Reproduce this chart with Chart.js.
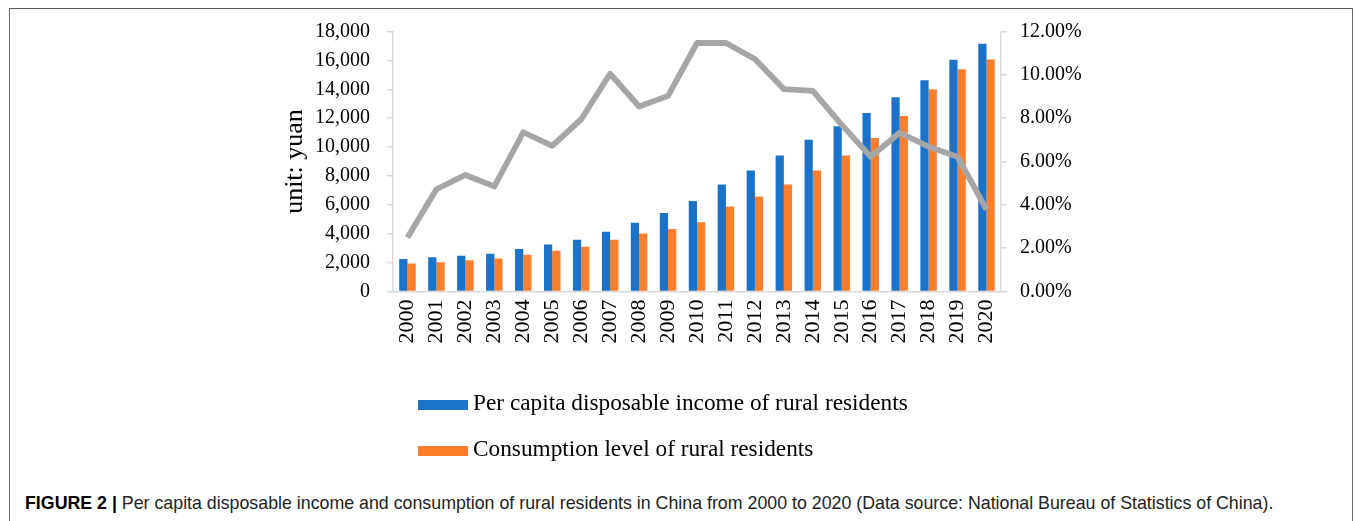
<!DOCTYPE html>
<html lang="en">
<head>
  <meta charset="UTF-8">
  <title>Rural residents: income and consumption, 2000-2020</title>
  <script src="https://cdn.jsdelivr.net/npm/chart.js@4"></script>
  <style>
    html, body {
      margin: 0;
      padding: 0;
      width: 1355px;
      height: 521px;
      overflow: hidden;
      background: #fff;
    }
    .frame {
      position: absolute;
      left: 9px;
      top: 8px;
      width: 1342px;
      height: 600px;
      border-top: 1.5px solid #5a5a5a;
      border-left: 1.5px solid #6b6b6b;
      border-right: 1.5px solid #6b6b6b;
    }
    #chart {
      position: absolute;
      left: 0;
      top: 0;
    }
    #legend {
      position: absolute;
      left: 418px;
      top: 379px;
      font-family: "Liberation Serif", "Times New Roman", serif;
      font-size: 23.3px;
      color: #000;
    }
    .legend-row {
      height: 46px;
      line-height: 46px;
      white-space: nowrap;
    }
    .legend-box {
      display: inline-block;
      width: 50px;
      height: 10px;
      margin-right: 5px;
      vertical-align: middle;
    }
    .caption {
      position: absolute;
      left: 25px;
      top: 493px;
      font-family: "Liberation Sans", Arial, sans-serif;
      font-size: 17.8px;
      color: #222;
      white-space: nowrap;
    }
    .caption b { font-weight: bold; color: #000; }
  </style>
</head>
<body>
  <div class="frame"></div>
  <canvas id="chart" width="1355" height="480"></canvas>
  <div id="legend"></div>
  <div class="caption"><b>FIGURE 2 |</b> Per capita disposable income and consumption of rural residents in China from 2000 to 2020 (Data source: National Bureau of Statistics of China).</div>

  <script>
    const years = ['2000', '2001', '2002', '2003', '2004', '2005', '2006', '2007', '2008', '2009', '2010',
                   '2011', '2012', '2013', '2014', '2015', '2016', '2017', '2018', '2019', '2020'];
    // yuan per person
    const income = [2250, 2370, 2480, 2620, 2940, 3260, 3590, 4140, 4760, 5440, 6270,
                    7410, 8380, 9420, 10510, 11440, 12360, 13450, 14630, 16040, 17150];
    const consumption = [1940, 2030, 2160, 2290, 2540, 2820, 3090, 3580, 4020, 4320, 4790,
                         5880, 6570, 7410, 8380, 9420, 10630, 12150, 14000, 15390, 16060];
    // annual growth of income, %
    const growth = [2.49, 4.72, 5.38, 4.85, 7.35, 6.72, 7.95, 10.05, 8.54, 9.03, 11.47,
                    11.47, 10.73, 9.34, 9.26, 7.69, 6.22, 7.33, 6.68, 6.22, 3.78];
    const yuanTicks = { min: 0, max: 18000, step: 2000 };
    const pctTicks = { min: 0, max: 12, step: 2 };

    const BLUE = '#1a72c9';
    const ORANGE = '#fe7f2b';
    const GREY_LINE = '#a6a6a6';
    const AXIS = '#d9d9d9';
    const SERIF = "'Liberation Serif', 'Times New Roman', serif";

    Chart.defaults.font.family = SERIF;
    Chart.defaults.color = '#000';

    const axisGrid = {
      drawOnChartArea: false,
      drawTicks: true,
      tickLength: 6,
      color: AXIS,
      lineWidth: 1.5
    };

    const chart = new Chart(document.getElementById('chart'), {
      data: {
        labels: years,
        datasets: [
          {
            type: 'line',
            label: 'Growth rate',
            data: growth,
            yAxisID: 'y1',
            borderColor: GREY_LINE,
            borderWidth: 5.8,
            borderJoinStyle: 'round',
            pointRadius: 0,
            tension: 0,
            order: 0
          },
          {
            type: 'bar',
            label: 'Per capita disposable income of rural residents',
            data: income,
            yAxisID: 'y',
            backgroundColor: BLUE,
            categoryPercentage: 0.57,
            barPercentage: 1.0,
            order: 1
          },
          {
            type: 'bar',
            label: 'Consumption level of rural residents',
            data: consumption,
            yAxisID: 'y',
            backgroundColor: ORANGE,
            categoryPercentage: 0.57,
            barPercentage: 1.0,
            order: 1
          }
        ]
      },
      options: {
        responsive: false,
        devicePixelRatio: 1,
        animation: false,
        layout: {
          padding: { left: 280, right: 200, top: 31.5, bottom: 118.5 }
        },
        plugins: {
          legend: { display: false },
          tooltip: { enabled: false }
        },
        scales: {
          x: {
            grid: { drawOnChartArea: false, drawTicks: false, color: AXIS },
            border: { color: AXIS, width: 1.5 },
            ticks: {
              autoSkip: false,
              minRotation: 90,
              maxRotation: 90,
              padding: 8,
              font: { size: 22 }
            },
            afterFit(scale) { scale.height = 70; }
          },
          y: {
            position: 'left',
            min: yuanTicks.min,
            max: yuanTicks.max,
            grid: axisGrid,
            border: { color: AXIS, width: 1.5 },
            ticks: {
              stepSize: yuanTicks.step,
              padding: 17,
              font: { size: 20 },
              callback: v => v.toLocaleString('en-US')
            },
            title: {
              display: true,
              text: 'unit: yuan',
              font: { size: 26 },
              padding: 0
            },
            afterFit(scale) { scale.width = 113; }
          },
          y1: {
            position: 'right',
            min: pctTicks.min,
            max: pctTicks.max,
            grid: axisGrid,
            border: { color: AXIS, width: 1.5 },
            ticks: {
              stepSize: pctTicks.step,
              padding: 13,
              font: { size: 20 },
              callback: v => v.toFixed(2) + '%'
            },
            afterFit(scale) { scale.width = 154; }
          }
        }
      }
    });

    // legend only lists the two bar series, stacked one per row
    const legend = document.getElementById('legend');
    chart.data.datasets.filter(ds => ds.type === 'bar').forEach(ds => {
      const row = document.createElement('div');
      row.className = 'legend-row';
      const box = document.createElement('span');
      box.className = 'legend-box';
      box.style.background = ds.backgroundColor;
      row.appendChild(box);
      row.appendChild(document.createTextNode(ds.label));
      legend.appendChild(row);
    });
  </script>
</body>
</html>
